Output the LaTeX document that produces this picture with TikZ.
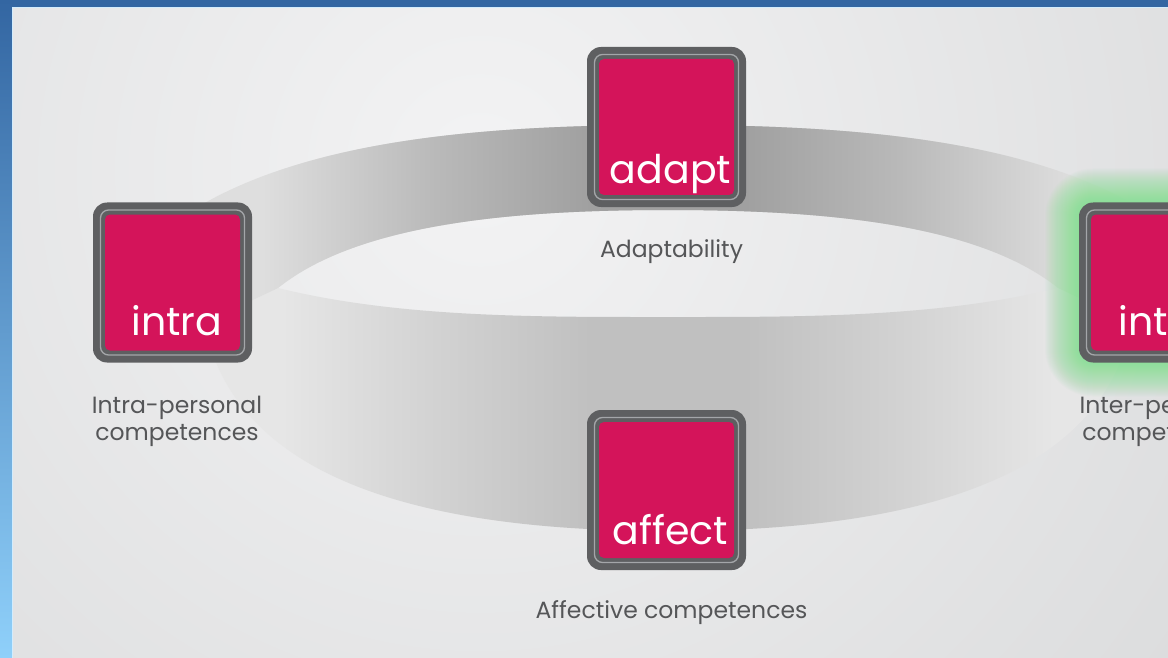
\documentclass[tikz,border=0pt]{standalone}
\usepackage{fontspec}
\setmainfont{Poppins}
\usetikzlibrary{calc}
\definecolor{crimson}{HTML}{D4145A}
\definecolor{frame}{HTML}{5E5F61}
\definecolor{framehi}{HTML}{A4A6A9}
\definecolor{labelgray}{HTML}{555658}
\definecolor{bgin}{HTML}{F3F3F4}
\definecolor{bgout}{HTML}{D8D9DA}
\definecolor{blueA}{HTML}{3366A2}
\definecolor{blueB}{HTML}{8FD0FA}
\definecolor{glow}{HTML}{6FDD7F}
\definecolor{bk1}{HTML}{DEDEDE}
\definecolor{bk2}{HTML}{B9B9B9}
\definecolor{bk3}{HTML}{A0A0A0}
\definecolor{fr1}{HTML}{E6E6E6}
\definecolor{fr2}{HTML}{D2D2D2}
\definecolor{fr3}{HTML}{C0C0C0}
\pgfdeclarehorizontalshading{backband}{100bp}{color(0bp)=(bk1); color(29bp)=(bk1); color(38bp)=(bk2); color(46bp)=(bk3); color(54bp)=(bk3); color(62bp)=(bk2); color(71bp)=(bk1); color(100bp)=(bk1)}
\pgfdeclarehorizontalshading{frontband}{100bp}{color(0bp)=(fr1); color(30bp)=(fr1); color(38bp)=(fr2); color(46bp)=(fr3); color(54bp)=(fr3); color(62bp)=(fr2); color(70bp)=(fr1); color(100bp)=(fr1)}
\tikzset{
  box/.style={fill=frame, rounded corners=14pt, minimum width=159pt, minimum height=160pt,
    inner sep=0pt, outer sep=0pt,
    path picture={
      \draw[framehi, line width=1.3pt, rounded corners=8pt]
        ([shift={(7.5pt,7.5pt)}]path picture bounding box.south west) rectangle
        ([shift={(-7.5pt,-7.5pt)}]path picture bounding box.north east);
      \fill[crimson, rounded corners=5pt]
        ([shift={(12pt,12pt)}]path picture bounding box.south west) rectangle
        ([shift={(-12pt,-12pt)}]path picture bounding box.north east);
    }},
  boxtext/.style={text=white, font=\fontsize{39.5}{40}\selectfont, inner sep=0pt, anchor=base},
  lbl/.style={text=labelgray, font=\fontsize{23.5}{27}\selectfont, align=center, inner sep=0pt, anchor=base}
}
\begin{document}
\begin{tikzpicture}[x=1pt,y=-1pt]
\useasboundingbox (0,0) rectangle (1168,658);
\clip (0,0) rectangle (1168,658);
% background panel
\begin{scope}
  \clip (12,7) rectangle (1168,658);
  \shade[inner color=bgin, outer color=bgout] (480,170) circle[radius=1000pt];
\end{scope}
% blue frame
\fill[blueA] (0,0) rectangle (1168,7);
\shade[top color=blueA, bottom color=blueB] (0,0) rectangle (12,658);
\draw[blueB!40!white, line width=0.8pt] (12.4,658) -- (12.4,7.4) -- (1168,7.4);
% ring: front band (whole ring minus hole)
\shade[shading=frontband, even odd rule]
  (185,215) .. controls (300,140) and (480,125) .. (668,125)
            .. controls (856,125) and (1036,140) .. (1151,215)
  -- (1136,290) .. controls (1126,470) and (936,531) .. (668,531)
            .. controls (400,531) and (210,470) .. (200,290) -- cycle
  (278,288) .. controls (360,222) and (520,210) .. (668,210)
            .. controls (816,210) and (976,222) .. (1058,288)
            .. controls (936,318) and (796,317) .. (668,317)
            .. controls (540,317) and (400,318) .. (278,288) -- cycle;
% ring: back band
\shade[shading=backband]
  (185,215) .. controls (300,140) and (480,125) .. (668,125)
            .. controls (856,125) and (1036,140) .. (1151,215)
  -- (1136,290) -- (1096,306) -- (1058,288)
            .. controls (976,222) and (816,210) .. (668,210)
            .. controls (520,210) and (360,222) .. (278,288)
  -- (240,306) -- (200,290) -- cycle;
% glow around inter box
\coordinate (interC) at (1158.5,282.5);
\foreach \r [evaluate=\r as \rc using \r+14] in {1,2,...,34}
  \fill[glow, opacity=0.028, rounded corners=\rc pt]
    ([shift={(-79.5pt-\r pt,-80pt-\r pt)}]interC) rectangle ([shift={(79.5pt+\r pt,80pt+\r pt)}]interC);
% boxes
\node[box] (adapt) at (666.5,127) {};
\node[box] (intra) at (172.5,282.5) {};
\node[box] (affect) at (666.5,490) {};
\node[box] (inter) at (interC) {};
% box texts
\node[boxtext] (adaptT) at (670.5,183) {adapt};
\node[boxtext] (intraT) at (177,335) {intra};
\node[boxtext] (affectT) at (670.5,544) {affect};
\node[boxtext] (interT) at (1163,335) {inter};
% labels
\node[lbl] (adaptL) at (671.5,257) {Adaptability};
\node[lbl] (intraL) at (177,440) {Intra-personal\\competences};
\node[lbl] (affectL) at (671.5,618) {Affective competences};
\node[lbl] (interL) at (1164,440) {Inter-personal\\competences};
\end{tikzpicture}
\end{document}
